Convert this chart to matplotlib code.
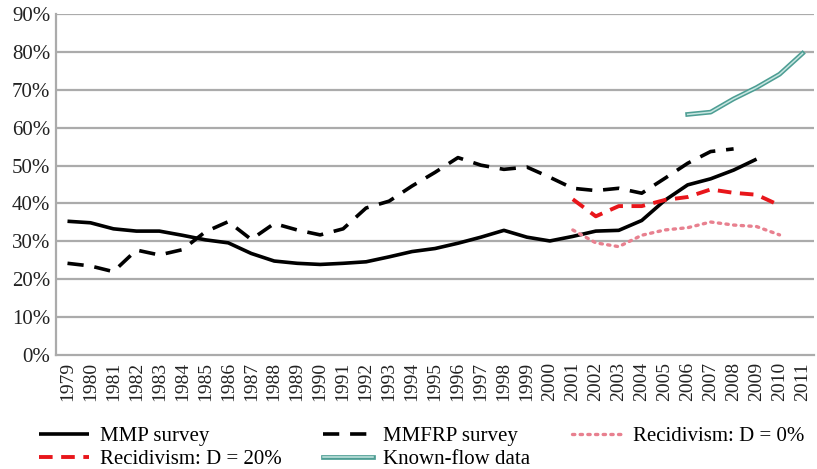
import matplotlib
matplotlib.use("Agg")
import matplotlib.pyplot as plt
import matplotlib.patheffects as pe
import numpy as np

years = [str(y) for y in range(1979, 2012)]

mmp = [35.3, 34.9, 33.3, 32.7, 32.7, 31.6, 30.4, 29.6, 26.8, 24.8, 24.2,
       23.9, 24.2, 24.6, 25.9, 27.3, 28.1, 29.5, 31.1, 32.9, 31.1, 30.1,
       31.3, 32.7, 32.9, 35.5, 40.8, 44.9, 46.5, 48.8, 51.7, None, None]
mmfrp = [24.2, 23.5, 22.0, 27.7, 26.4, 27.8, 32.5, 35.2, 30.5, 34.7, 33.0,
         31.7, 33.3, 38.8, 40.6, 44.6, 48.2, 52.1, 50.1, 49.0, 49.6, 46.9,
         44.0, 43.4, 44.0, 42.7, 46.6, 50.6, 53.7, 54.4, None, None, None]
recid0 = [None]*22 + [33.0, 29.6, 28.6, 31.6, 33.0, 33.6, 35.1, 34.3, 33.9, 31.7, None]
recid20 = [None]*22 + [41.1, 36.6, 39.3, 39.3, 40.9, 41.7, 43.7, 42.8, 42.3, 39.5, None]
known = [None]*27 + [63.5, 64.1, 67.6, 70.6, 74.1, 79.6]

def arr(v):
    return np.array([np.nan if x is None else x for x in v], dtype=float)

plt.rcParams['font.family'] = ['Liberation Serif', 'DejaVu Serif']
fig = plt.figure(figsize=(8.17, 4.69), dpi=100)
ax = fig.add_axes([56/817, 1-355/469, (814-56)/817, (355-14)/469])

x = np.arange(len(years))
grid_c = '#ababab'
for v in range(10, 100, 10):
    ax.axhline(v, color=grid_c, lw=1.6, zorder=0)

l_mmp, = ax.plot(x, arr(mmp), color='black', lw=2.6, solid_capstyle='butt', label='MMP survey')
l_mmfrp, = ax.plot(x, arr(mmfrp), color='black', lw=2.6, dashes=(4.5, 3.0), label='MMFRP survey')
l_r0, = ax.plot(x, arr(recid0), color='#e8808f', lw=2.4, dashes=(0.7, 1.6), dash_capstyle='round', label='Recidivism: D = 0%')
l_r20, = ax.plot(x, arr(recid20), color='#e8161b', lw=2.8, dashes=(3.5, 2.2), label='Recidivism: D = 20%')
l_kf, = ax.plot(x, arr(known), color='#4e9e94', lw=3.4, label='Known-flow data')
l_kf.set_path_effects([pe.Stroke(linewidth=3.4, foreground='#4e9e94'),
                       pe.Stroke(linewidth=1.1, foreground='#c8e6e1')])

ax.set_xlim(-0.5, len(years) - 0.5)
ax.set_ylim(0, 90)
ax.set_yticks(range(0, 100, 10))
ax.set_yticklabels([f'{v}%' for v in range(0, 100, 10)], fontsize=15, color='#222222')
ax.set_xticks(x)
ax.set_xticklabels(years, rotation=90, fontsize=14, color='#222222')
ax.tick_params(axis='both', length=0, pad=4)
ax.tick_params(axis='x', pad=5)
for s in ['top', 'right']:
    ax.spines[s].set_visible(False)
for s in ['left', 'bottom']:
    ax.spines[s].set_color(grid_c)
    ax.spines[s].set_linewidth(1.6)

handles = [l_mmp, l_r20, l_mmfrp, l_kf, l_r0]
fig.legend(handles=handles, labels=[h.get_label() for h in handles],
           ncol=3, loc='lower left', bbox_to_anchor=(0.025, -0.04),
           frameon=False, fontsize=15, handlelength=2.4, handletextpad=0.5,
           columnspacing=2.0, labelspacing=0.15)

fig.savefig('out.png', dpi=100)
